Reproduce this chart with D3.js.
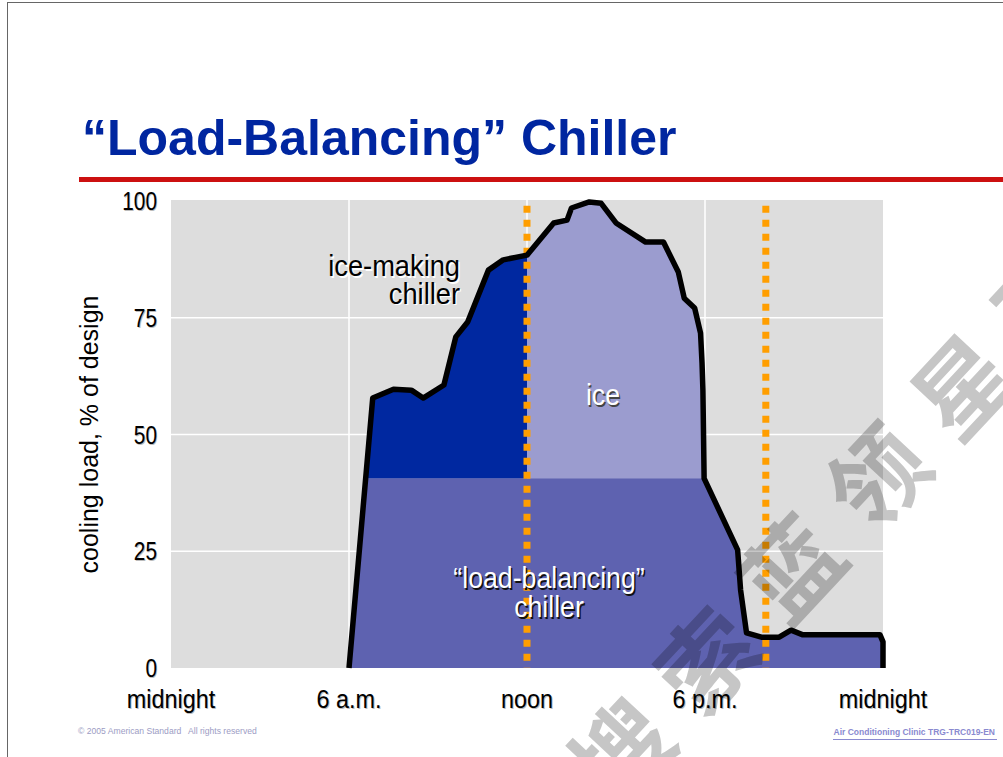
<!DOCTYPE html>
<html>
<head>
<meta charset="utf-8">
<script src="https://cdn.jsdelivr.net/npm/d3@7"></script>
<style>
  body { margin: 0; background: #fff; overflow: hidden; }
  svg { display: block; }
</style>
</head>
<body>
<div id="chart"></div>
<script>
// --- Data ---
const hours = [6.0, 6.8, 7.5, 8.1, 8.5, 9.2, 9.6, 10.0, 10.7, 11.2, 12.0, 12.9, 13.35, 13.5, 14.1, 14.5,
  15.0, 16.0, 16.6, 17.1, 17.3, 17.65, 17.85, 17.9, 17.93, 17.97, 19.1, 19.2, 19.4, 19.9, 20.5, 20.9, 21.3, 23.9, 24.0, 24.0];
const loads = [0, 57.8, 59.7, 59.5, 57.8, 60.6, 70.9, 74.1, 85.2, 87.4, 88.4, 95.3, 95.9, 98.5, 99.8, 99.5,
  95.3, 91.2, 91.2, 84.8, 79.2, 77.1, 71.7, 65.3, 59.5, 40.6, 25.3, 16.7, 7.5, 6.6, 6.6, 8.1, 7.1, 7.1, 5.6, 0];
const baseLoad = 40.6;          // "load-balancing" chiller capacity
const iceStartHour = 12;        // left of this the chiller makes ice
const dividerHours = [12, 20.05];

const xTicks = [0, 6, 12, 18, 24];
const xTickLabels = ["midnight", "6 a.m.", "noon", "6 p.m.", "midnight"];
const yTicks = [0, 25, 50, 75, 100];
const gridX = [6, 12, 18];
const gridY = [25, 50, 75];

const W = 1003, H = 757;
const FONT = "'Liberation Sans', Arial, sans-serif";

const svg = d3.select("#chart").append("svg")
  .attr("width", W).attr("height", H);

// --- Slide frame, title, rule ---
svg.append("line").attr("x1", 7).attr("x2", W).attr("y1", 2.5).attr("y2", 2.5)
  .attr("stroke", "#666").attr("stroke-width", 1);
svg.append("line").attr("x1", 7.5).attr("x2", 7.5).attr("y1", 2).attr("y2", H)
  .attr("stroke", "#666").attr("stroke-width", 1);

svg.append("text").attr("x", 82).attr("y", 155)
  .attr("font-family", FONT).attr("font-weight", "bold").attr("font-size", 50)
  .attr("fill", "#0026A0")
  .text("\u201CLoad-Balancing\u201D Chiller");

svg.append("rect").attr("x", 79).attr("y", 177).attr("width", W - 79).attr("height", 5)
  .attr("fill", "#CC1010");

// --- Scales ---
const x = d3.scaleLinear().domain([0, 24]).range([171, 883]);
const y = d3.scaleLinear().domain([0, 100]).range([668, 201]);

// plot background + grid
svg.append("rect").attr("x", x(0)).attr("y", 200).attr("width", x(24) - x(0)).attr("height", y(0) - 200)
  .attr("fill", "#DDDDDD");
svg.append("g").selectAll("line").data(gridY).join("line")
  .attr("x1", x(0)).attr("x2", x(24)).attr("y1", d => y(d)).attr("y2", d => y(d))
  .attr("stroke", "#fff").attr("stroke-width", 1.5);
svg.append("g").selectAll("line").data(gridX).join("line")
  .attr("x1", d => x(d)).attr("x2", d => x(d)).attr("y1", 200).attr("y2", y(0))
  .attr("stroke", "#fff").attr("stroke-width", 1.5);

// --- Areas ---
const pts = hours.map((h, i) => ({ h, v: loads[i] }));
const area = d3.area().x(d => x(d.h)).y0(y(0)).y1(d => y(d.v));
const line = d3.line().x(d => x(d.h)).y(d => y(d.v));

const defs = svg.append("defs");
defs.append("clipPath").attr("id", "clipMaking").append("rect")
  .attr("x", 0).attr("y", 0).attr("width", x(iceStartHour)).attr("height", y(baseLoad));
defs.append("clipPath").attr("id", "clipBase").append("rect")
  .attr("x", 0).attr("y", y(baseLoad)).attr("width", W).attr("height", H);

svg.append("path").datum(pts).attr("d", area).attr("fill", "#9B9CCF");
svg.append("path").datum(pts).attr("d", area).attr("fill", "#0028A0").attr("clip-path", "url(#clipMaking)");
svg.append("path").datum(pts).attr("d", area).attr("fill", "#5E62B0").attr("clip-path", "url(#clipBase)");

// orange dotted dividers
svg.append("g").selectAll("line").data(dividerHours).join("line")
  .attr("x1", d => x(d)).attr("x2", d => x(d))
  .attr("y1", y(99)).attr("y2", y(0))
  .attr("stroke", "#FF9E00").attr("stroke-width", 7).attr("stroke-dasharray", "7,7");

// load outline
svg.append("path").datum(pts).attr("d", line)
  .attr("fill", "none").attr("stroke", "#000").attr("stroke-width", 5.5)
  .attr("stroke-linejoin", "round");

// --- Text helper (condensed via horizontal scale) ---
function label(px, py, lines, o) {
  const g = svg.append("g").attr("transform", `translate(${px},${py}) scale(${o.sx || 1},1)`);
  const lh = o.lh || 0;
  const draw = (dx, dy, fill) => {
    const t = g.append("text").attr("x", dx).attr("y", dy)
      .attr("font-family", FONT).attr("font-size", o.size).attr("fill", fill)
      .attr("text-anchor", o.anchor || "middle");
    lines.forEach((s, i) => t.append("tspan").attr("x", dx).attr("y", dy + i * lh).text(s));
  };
  if (o.shadow) draw(o.off || 1.3, o.off || 1.3, o.shadow);
  draw(0, 0, o.fill);
}

// axis labels
xTicks.forEach((t, i) => label(x(t), 708, [xTickLabels[i]], { size: 26, sx: 0.9, fill: "#000", shadow: "#bbb", off: 1 }));
yTicks.forEach(t => label(157, y(t) + 9, [String(t)], { size: 26, sx: 0.8, fill: "#000", shadow: "#bbb", off: 1, anchor: "end" }));

svg.append("text")
  .attr("transform", `translate(98,${y(50)}) rotate(-90)`)
  .attr("font-family", FONT).attr("font-size", 25).attr("text-anchor", "middle")
  .attr("fill", "#000")
  .text("cooling load, % of design");

// region labels
label(460, 276, ["ice-making", "chiller"], { size: 29, sx: 0.94, lh: 28, fill: "#000", shadow: "#fff", anchor: "end", off: 1.5 });
label(603, 405, ["ice"], { size: 29, sx: 0.92, fill: "#fff", shadow: "#444", off: 1.5 });
label(549, 588, ["\u201Cload-balancing\u201D", "chiller"], { size: 29, sx: 0.92, lh: 29, fill: "#fff", shadow: "#111", off: 1.6 });

// footers
svg.append("text").attr("x", 78).attr("y", 734)
  .attr("font-family", FONT).attr("font-size", 8.6).attr("fill", "#9C9CC4")
  .attr("xml:space", "preserve")
  .text("\u00A9 2005 American Standard   All rights reserved");
svg.append("text").attr("x", 995).attr("y", 735).attr("text-anchor", "end")
  .attr("font-family", FONT).attr("font-size", 8.5).attr("font-weight", "bold").attr("fill", "#8A8AD0")
  .text("Air Conditioning Clinic TRG-TRC019-EN");
svg.append("line").attr("x1", 833).attr("x2", 997).attr("y1", 739.5).attr("y2", 739.5)
  .attr("stroke", "#8A8AD0").attr("stroke-width", 1);

// --- Watermark ---
const wmChars = ["搜", "索", "蓝", "领", "星", "球"];
const ang = -47 * Math.PI / 180, step = 125, x0 = 618, y0 = 748;
svg.append("g").style("mix-blend-mode", "multiply")
  .selectAll("text").data(wmChars).join("text")
  .attr("transform", (d, i) => `translate(${x0 + i * step * Math.cos(ang)},${y0 + i * step * Math.sin(ang)}) rotate(-47)`)
  .attr("text-anchor", "middle").attr("dominant-baseline", "central")
  .attr("font-family", "'Noto Sans CJK SC', sans-serif").attr("font-size", 96).attr("font-weight", "bold")
  .attr("fill", "#C6C6C6")
  .text(d => d);
</script>
</body>
</html>
